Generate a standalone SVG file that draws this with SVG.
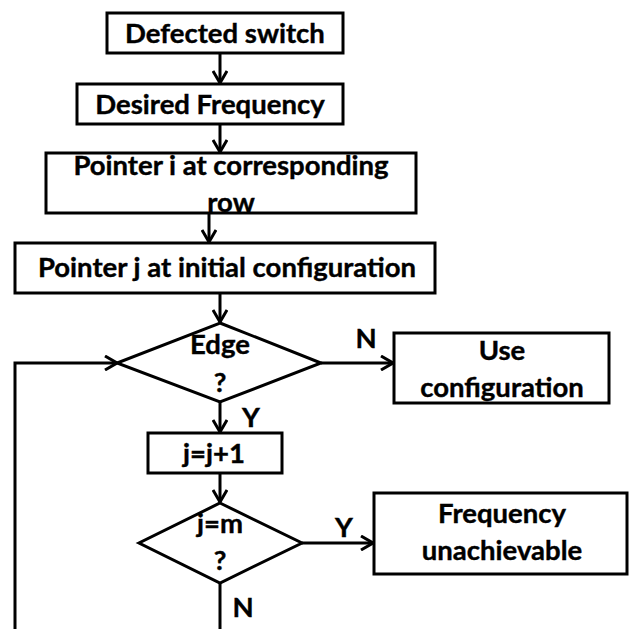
<svg xmlns="http://www.w3.org/2000/svg" width="630" height="629" viewBox="0 0 630 629">
  <defs>
    <style>
      .box { fill: #ffffff; stroke: #000000; stroke-width: 3; }
      .wire { fill: none; stroke: #000000; stroke-width: 3; }
      .lbl { font-family: Lato, "Open Sans", "Liberation Sans", sans-serif; font-weight: bold; font-size: 27.5px; fill: #000000; text-anchor: middle; stroke: #000000; stroke-width: 0.4; }
    </style>
    <marker id="arrow" viewBox="0 0 14 16" refX="13" refY="8" markerWidth="14" markerHeight="16" markerUnits="userSpaceOnUse" orient="auto">
      <path d="M1,1 L13,8 L1,15" fill="none" stroke="#000000" stroke-width="3"/>
    </marker>
  </defs>

  <g id="connectors">
    <line class="wire" x1="220" y1="53" x2="220" y2="83" marker-end="url(#arrow)"/>
    <line class="wire" x1="220" y1="124" x2="220" y2="152" marker-end="url(#arrow)"/>
    <line class="wire" x1="209" y1="213" x2="209" y2="242" marker-end="url(#arrow)"/>
    <line class="wire" x1="220" y1="293" x2="220" y2="322" marker-end="url(#arrow)"/>
    <line class="wire" x1="321" y1="363" x2="393" y2="363" marker-end="url(#arrow)"/>
    <line class="wire" x1="220" y1="402" x2="220" y2="432" marker-end="url(#arrow)"/>
    <line class="wire" x1="220" y1="473" x2="220" y2="502" marker-end="url(#arrow)"/>
    <line class="wire" x1="302" y1="543" x2="373" y2="543" marker-end="url(#arrow)"/>
    <line class="wire" x1="220" y1="583" x2="220" y2="629"/>
    <polyline class="wire" points="15,629 15,363 117,363" marker-end="url(#arrow)"/>
    <text class="lbl" x="366" y="348">N</text>
    <text class="lbl" x="251" y="427">Y</text>
    <text class="lbl" x="344" y="537">Y</text>
    <text class="lbl" x="243" y="617">N</text>
  </g>

  <g id="defected-switch">
    <rect class="box" x="107" y="13" width="236" height="40"/>
    <text class="lbl" x="225" y="43">Defected switch</text>
  </g>

  <g id="desired-frequency">
    <rect class="box" x="77" y="84" width="266" height="40"/>
    <text class="lbl" x="210" y="114">Desired Frequency</text>
  </g>

  <g id="pointer-i">
    <rect class="box" x="46" y="153" width="370" height="60"/>
    <text class="lbl" x="231" y="175">Pointer i at corresponding</text>
    <text class="lbl" x="231" y="212">row</text>
  </g>

  <g id="pointer-j">
    <rect class="box" x="15" y="243" width="420" height="50"/>
    <text class="lbl" x="227" y="277">Pointer j at initial configuration</text>
  </g>

  <g id="edge-decision">
    <polygon class="box" points="220,323 321,363 220,402 117,363"/>
    <text class="lbl" x="220" y="354">Edge</text>
    <text class="lbl" x="220" y="392">?</text>
  </g>

  <g id="use-configuration">
    <rect class="box" x="394" y="333" width="215" height="70"/>
    <text class="lbl" x="502" y="360">Use</text>
    <text class="lbl" x="502" y="397">configuration</text>
  </g>

  <g id="increment-j">
    <rect class="box" x="148" y="433" width="134" height="40"/>
    <text class="lbl" x="214" y="463">j=j+1</text>
  </g>

  <g id="end-decision">
    <polygon class="box" points="220,503 302,543 220,583 139,543"/>
    <text class="lbl" x="220" y="533">j=m</text>
    <text class="lbl" x="220" y="570">?</text>
  </g>

  <g id="frequency-unachievable">
    <rect class="box" x="374" y="493" width="253" height="81"/>
    <text class="lbl" x="502" y="523">Frequency</text>
    <text class="lbl" x="502" y="560">unachievable</text>
  </g>
</svg>
